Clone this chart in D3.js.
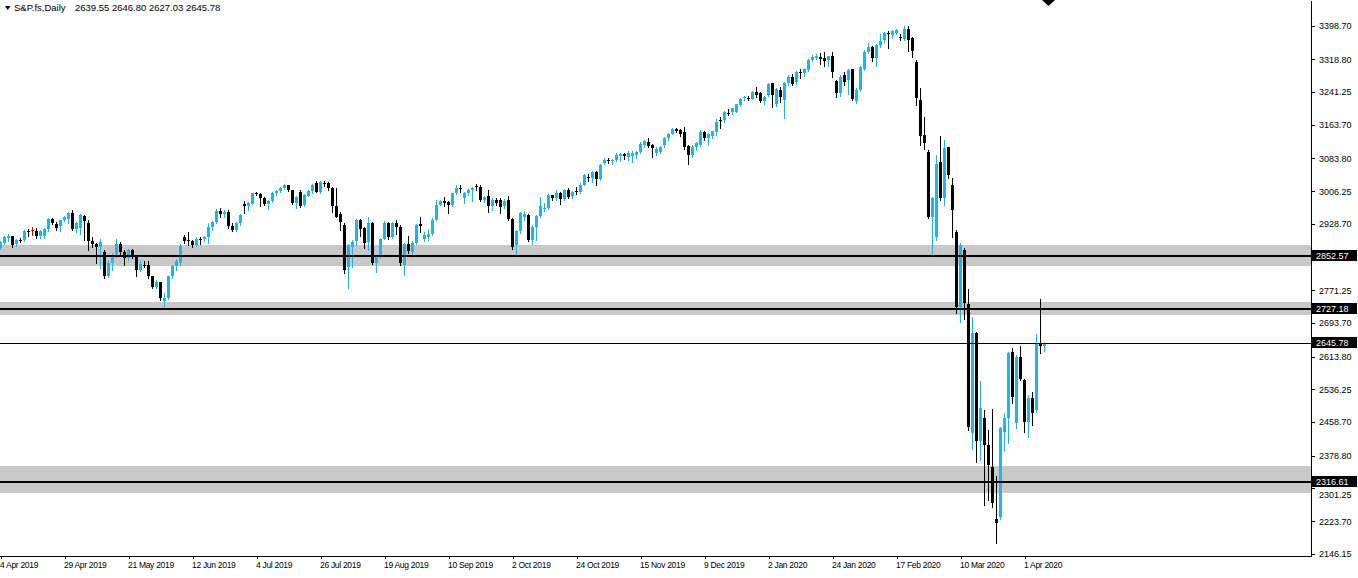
<!DOCTYPE html>
<html><head><meta charset="utf-8">
<script src="https://cdn.jsdelivr.net/npm/d3@7"></script>
<style>
html,body{margin:0;padding:0;background:#fff;overflow:hidden}
svg{display:block}
</style></head><body>
<svg id="chart" width="1358" height="578"></svg>
<script>
// ---- data (daily bars, 4 Apr 2019 .. 8 Apr 2020) ----
const opens = [
2872,2884,2896,2899,2880,2891,2890,2911,2914,2912,
2899,2900,2916,2940,2929,2924,2937,2940,2954,2916,
2918,2948,2932,2888,2880,2873,2862,2806,2836,2853,
2880,2862,2847,2866,2851,2819,2832,2831,2804,2778,
2790,2745,2753,2804,2828,2835,2898,2890,2887,2879,
2894,2892,2898,2922,2934,2960,2951,2957,2923,2915,
2931,2976,2971,2977,3001,3000,2990,2976,2983,3001,
3007,3015,3020,3008,2978,3005,2974,2996,3007,3025,
3005,3026,3025,3013,2971,2953,2926,2827,2875,2889,
2937,2920,2886,2931,2836,2851,2894,2931,2897,2930,
2922,2831,2882,2861,2884,2928,2893,2898,2905,2938,
2973,2983,2980,2974,3001,3013,2989,3001,3008,3019,
3017,2986,2995,2970,2986,2985,2970,2986,2940,2879,
2912,2946,2950,2891,2922,2948,2963,2967,2997,2991,
3001,2988,3009,2996,3006,3005,3021,3040,3038,3052,
3034,3072,3080,3077,3080,3090,3095,3088,3089,3093,
3099,3116,3122,3116,3096,3100,3115,3132,3143,3154,
3151,3146,3114,3092,3112,3116,3147,3132,3136,3147,
3175,3175,3191,3193,3195,3211,3227,3228,3226,3242,
3240,3221,3234,3262,3214,3246,3222,3262,3276,3266,
3289,3286,3294,3317,3321,3324,3321,3317,3327,3268,
3240,3282,3270,3295,3221,3246,3295,3337,3349,3321,
3353,3365,3382,3377,3381,3372,3367,3391,3369,3313,
3223,3139,3100,2946,2898,3076,2989,3110,3022,2910,
2732,2867,2739,2432,2671,2415,2468,2404,2353,2228,
2234,2436,2468,2626,2456,2614,2558,2458,2517,2487,
2646,2639.55];
const highs = [
2888,2899,2904,2901,2893,2896,2914,2916,2922,2920,
2914,2918,2942,2943,2934,2938,2948,2958,2962,2934,
2952,2950,2938,2898,2884,2894,2866,2842,2860,2892,
2886,2866,2870,2869,2855,2843,2840,2840,2806,2795,
2792,2764,2806,2832,2845,2881,2902,2910,2890,2897,
2898,2900,2931,2936,2965,2966,2961,2962,2930,2933,
2951,2982,2981,3003,3004,3002,2992,2986,3005,3010,
3017,3023,3022,3010,2994,3010,2999,3010,3024,3030,
3031,3030,3027,3017,3015,2956,2930,2882,2890,2941,
2940,2922,2946,2934,2856,2896,2935,2934,2933,2937,
2925,2884,2900,2889,2929,2946,2910,2917,2942,2986,
2986,2993,2982,3002,3022,3021,3004,3011,3016,3024,
3022,2996,3010,2991,2989,2991,2987,2995,2943,2915,
2956,2960,2953,2925,2950,2993,2978,3000,2998,3008,
3005,3012,3015,3007,3016,3025,3047,3047,3054,3053,
3070,3085,3086,3082,3098,3097,3097,3101,3101,3102,
3122,3128,3133,3118,3110,3114,3135,3145,3156,3157,
3153,3159,3116,3115,3122,3151,3150,3145,3150,3178,
3183,3197,3200,3204,3214,3228,3232,3233,3244,3254,
3242,3233,3262,3264,3250,3254,3266,3281,3283,3291,
3295,3299,3320,3330,3332,3333,3337,3328,3337,3270,
3281,3290,3296,3297,3250,3304,3340,3357,3351,3356,
3378,3384,3385,3388,3390,3380,3398,3397,3372,3318,
3250,3183,3104,2993,3092,3138,3128,3112,3037,2915,
2883,2872,2774,2707,2673,2555,2487,2440,2490,2330,
2448,2480,2626,2634,2618,2638,2562,2523,2531,2668,
2750,2646.80];
const lows = [
2868,2882,2888,2874,2876,2885,2889,2900,2903,2895,
2896,2896,2913,2928,2914,2912,2935,2932,2914,2910,
2905,2890,2867,2873,2836,2825,2800,2802,2820,2850,
2855,2832,2843,2848,2804,2817,2826,2800,2776,2776,
2748,2731,2750,2800,2819,2831,2883,2879,2874,2876,
2882,2888,2884,2915,2932,2946,2946,2920,2911,2912,
2927,2955,2961,2975,2998,2970,2973,2963,2981,2997,
3004,3012,3007,2976,2967,2968,2970,2994,3002,3004,
3002,3018,3010,2957,2944,2915,2812,2776,2827,2879,
2899,2871,2867,2833,2815,2848,2892,2894,2895,2905,
2831,2808,2860,2851,2882,2910,2889,2890,2903,2937,
2973,2970,2955,2972,3000,3005,2979,2998,2982,3010,
2982,2980,2958,2962,2973,2955,2966,2937,2870,2855,
2908,2938,2888,2881,2890,2946,2960,2964,2985,2986,
2977,2985,2989,2990,2999,3001,3020,3030,3027,3021,
3032,3070,3073,3070,3077,3079,3082,3080,3075,3084,
3097,3111,3110,3088,3092,3098,3110,3128,3141,3146,
3137,3106,3070,3087,3103,3114,3128,3115,3132,3140,
3155,3170,3186,3189,3193,3209,3223,3222,3225,3230,
3218,3213,3232,3205,3208,3218,3179,3258,3259,3260,
3274,3280,3292,3314,3319,3308,3303,3302,3276,3230,
3233,3258,3237,3222,3216,3243,3293,3333,3316,3302,
3349,3360,3347,3370,3378,3364,3364,3339,3325,3211,
3116,3106,2943,2855,2890,2985,2973,3037,2898,2717,
2697,2702,2440,2394,2365,2369,2262,2274,2258,2171,
2230,2389,2408,2505,2444,2558,2436,2424,2452,2483,
2623,2627.03];
const closes = [
2886,2897,2900,2879,2890,2889,2911,2910,2914,2899,
2912,2916,2940,2930,2918,2937,2946,2955,2916,2930,
2950,2935,2888,2880,2873,2885,2806,2836,2853,2880,
2862,2847,2866,2851,2819,2833,2829,2804,2780,2792,
2752,2753,2804,2828,2840,2876,2887,2887,2879,2894,
2892,2898,2922,2934,2960,2952,2957,2923,2914,2931,
2950,2971,2978,3001,3000,2990,2976,2983,3001,3007,
3015,3021,3010,2978,2993,2970,2997,3007,3021,3005,
3029,3025,3013,2971,2946,2934,2820,2879,2886,2937,
2916,2883,2931,2836,2851,2892,2931,2897,2930,2922,
2836,2882,2864,2884,2926,2924,2902,2905,2938,2973,
2983,2979,2974,3001,3013,3012,3001,3009,3014,3017,
2986,2992,2970,2986,2979,2968,2983,2940,2874,2912,
2954,2951,2891,2922,2948,2971,2967,2997,2991,3001,
2988,3009,2992,3004,3005,3021,3044,3038,3052,3034,
3068,3080,3077,3080,3092,3095,3090,3096,3098,3099,
3118,3125,3113,3108,3106,3112,3132,3143,3154,3148,
3141,3112,3092,3112,3120,3147,3132,3143,3149,3171,
3173,3195,3189,3203,3212,3225,3229,3226,3242,3234,
3221,3229,3260,3234,3248,3230,3262,3276,3261,3289,
3287,3297,3317,3324,3328,3319,3316,3327,3290,3238,
3278,3266,3294,3226,3246,3301,3337,3349,3321,3353,
3362,3381,3379,3386,3388,3369,3391,3365,3339,3227,
3136,3120,2946,2991,3070,2989,3108,3045,2962,2732,
2879,2740,2448,2669,2415,2491,2404,2357,2266,2219,
2444,2468,2622,2519,2614,2562,2458,2517,2480,2645,
2640,2645.78];

const xTickIndex  = [0,16,32,48,64,80,96,112,128,144,160,176,192,208,224,240,256];
const xTickLabels = ["4 Apr 2019","29 Apr 2019","21 May 2019","12 Jun 2019","4 Jul 2019","26 Jul 2019",
  "19 Aug 2019","10 Sep 2019","2 Oct 2019","24 Oct 2019","15 Nov 2019","9 Dec 2019","2 Jan 2020",
  "24 Jan 2020","17 Feb 2020","10 Mar 2020","1 Apr 2020"];
const yTickValues = [3398.70,3318.80,3241.25,3163.70,3083.80,3006.25,2928.70,2771.25,2693.70,
  2613.80,2536.25,2458.70,2378.80,2301.25,2223.70,2146.15];
const levelLines  = [2852.57, 2727.18, 2316.61];
const zoneLows    = [2828.9, 2712.7, 2291.6];
const zoneHighs   = [2878.6, 2743.5, 2355.6];
const lastPrice   = 2645.78;
const markedPrices = [2852.57, 2727.18, 2645.78, 2316.61];
const symbolTitle = "S&P.fs,Daily";
const titleOHLC   = "2639.55 2646.80 2627.03 2645.78";

// ---- drawing ----
const BLUE = "#22B3E8", GRAY = "#C8C8C8", FONT = "'Liberation Sans', Arial, sans-serif";
const plotRight = 1311, plotBottom = 556;
const svg = d3.select("#chart").attr("shape-rendering","crispEdges");
const x = d3.scaleLinear().domain([0, closes.length - 1]).range([0.5, 1044.5]);
const y = d3.scaleLinear().domain([2141.12, 3459.67]).range([plotBottom, 0]);
const fmt = d3.format(".2f");

svg.append("rect").attr("width",1358).attr("height",578).attr("fill","#fff");

// zones
const zones = zoneLows.map((lo,i)=>({lo, hi: zoneHighs[i]}));
svg.append("g").selectAll("rect").data(zones).join("rect")
  .attr("x",0).attr("width",plotRight)
  .attr("y", d=>Math.round(y(d.hi)))
  .attr("height", d=>Math.round(y(d.lo)) - Math.round(y(d.hi)))
  .attr("fill", GRAY);

// candles
const bars = closes.map((c,i)=>({i, o:opens[i], h:highs[i], l:lows[i], c}));
const col = d => d.c > d.o ? BLUE : (d.c < d.o ? "#000" : "#E00000");
const gc = svg.append("g");
gc.selectAll(".wick").data(bars).join("rect").attr("class","wick")
  .attr("x", d=>Math.floor(x(d.i))).attr("width",1)
  .attr("y", d=>Math.round(y(d.h)))
  .attr("height", d=>Math.max(1, Math.round(y(d.l)) - Math.round(y(d.h)) + 1))
  .attr("fill", col);
gc.selectAll(".body").data(bars).join("rect").attr("class","body")
  .attr("x", d=>Math.floor(x(d.i)) - 1).attr("width",3)
  .attr("y", d=>Math.round(y(Math.max(d.o,d.c))))
  .attr("height", d=>Math.max(1, Math.round(y(Math.min(d.o,d.c))) - Math.round(y(Math.max(d.o,d.c)))))
  .attr("fill", col);

// level lines
svg.append("g").selectAll("rect").data(levelLines).join("rect")
  .attr("x",0).attr("width",plotRight)
  .attr("y", d=>Math.round(y(d)) - 1).attr("height",2).attr("fill","#000");
svg.append("rect").attr("x",0).attr("width",plotRight)
  .attr("y", Math.round(y(lastPrice))).attr("height",1).attr("fill","#000");

// price axis
const yAxis = d3.axisRight(y).tickValues(yTickValues).tickFormat(fmt)
  .tickSize(4).tickPadding(4).tickSizeOuter(0);
const gy = svg.append("g").attr("transform",`translate(${plotRight},0)`).call(yAxis)
  .attr("font-family", FONT).attr("font-size", 9);
gy.select(".domain").attr("stroke","#000");
gy.selectAll(".tick line").attr("stroke","#000");
gy.selectAll(".tick text").attr("fill","#000")
  .attr("dy", d => Math.abs(d - 2301.25) < 0.01 ? "0.95em" : "0.32em");

// marked price labels
const gm = svg.append("g");
gm.selectAll("rect").data(markedPrices).join("rect")
  .attr("x", plotRight + 1).attr("width", 45)
  .attr("y", d=>Math.round(y(d)) - 6).attr("height", 11).attr("fill","#000");
gm.selectAll("text").data(markedPrices).join("text")
  .attr("x", plotRight + 5).attr("y", d=>Math.round(y(d)) + 3)
  .attr("font-family", FONT).attr("font-size", 9).attr("fill","#fff")
  .text(fmt);

// time axis
svg.append("rect").attr("x",0).attr("y",plotBottom).attr("width",plotRight+1).attr("height",1).attr("fill","#000");
const xAxis = d3.axisBottom(x).tickValues(xTickIndex).tickFormat((d,i)=>xTickLabels[i])
  .tickSize(3).tickPadding(3).tickSizeOuter(0);
const gx = svg.append("g").attr("transform",`translate(0,${plotBottom})`).call(xAxis)
  .attr("font-family", FONT).attr("font-size", 8.5);
gx.select(".domain").remove();
gx.selectAll(".tick line").attr("stroke","#000");
gx.selectAll(".tick text").attr("fill","#000").attr("text-anchor","start").attr("x",-1)
  .attr("letter-spacing","-0.3");

// header
svg.append("path").attr("d","M5,6 L10.5,6 L7.75,10 Z").attr("fill","#000").attr("shape-rendering","auto");
svg.append("text").attr("x",14).attr("y",11).attr("font-family",FONT).attr("font-size",9.5)
  .attr("fill","#000").text(symbolTitle);
svg.append("text").attr("x",75).attr("y",11).attr("font-family",FONT).attr("font-size",9.5)
  .attr("fill","#000").text(titleOHLC);

// chart shift marker
svg.append("path").attr("d","M1042,0 L1055,0 L1048.5,6 Z").attr("fill","#000").attr("shape-rendering","auto");
</script>
</body></html>
